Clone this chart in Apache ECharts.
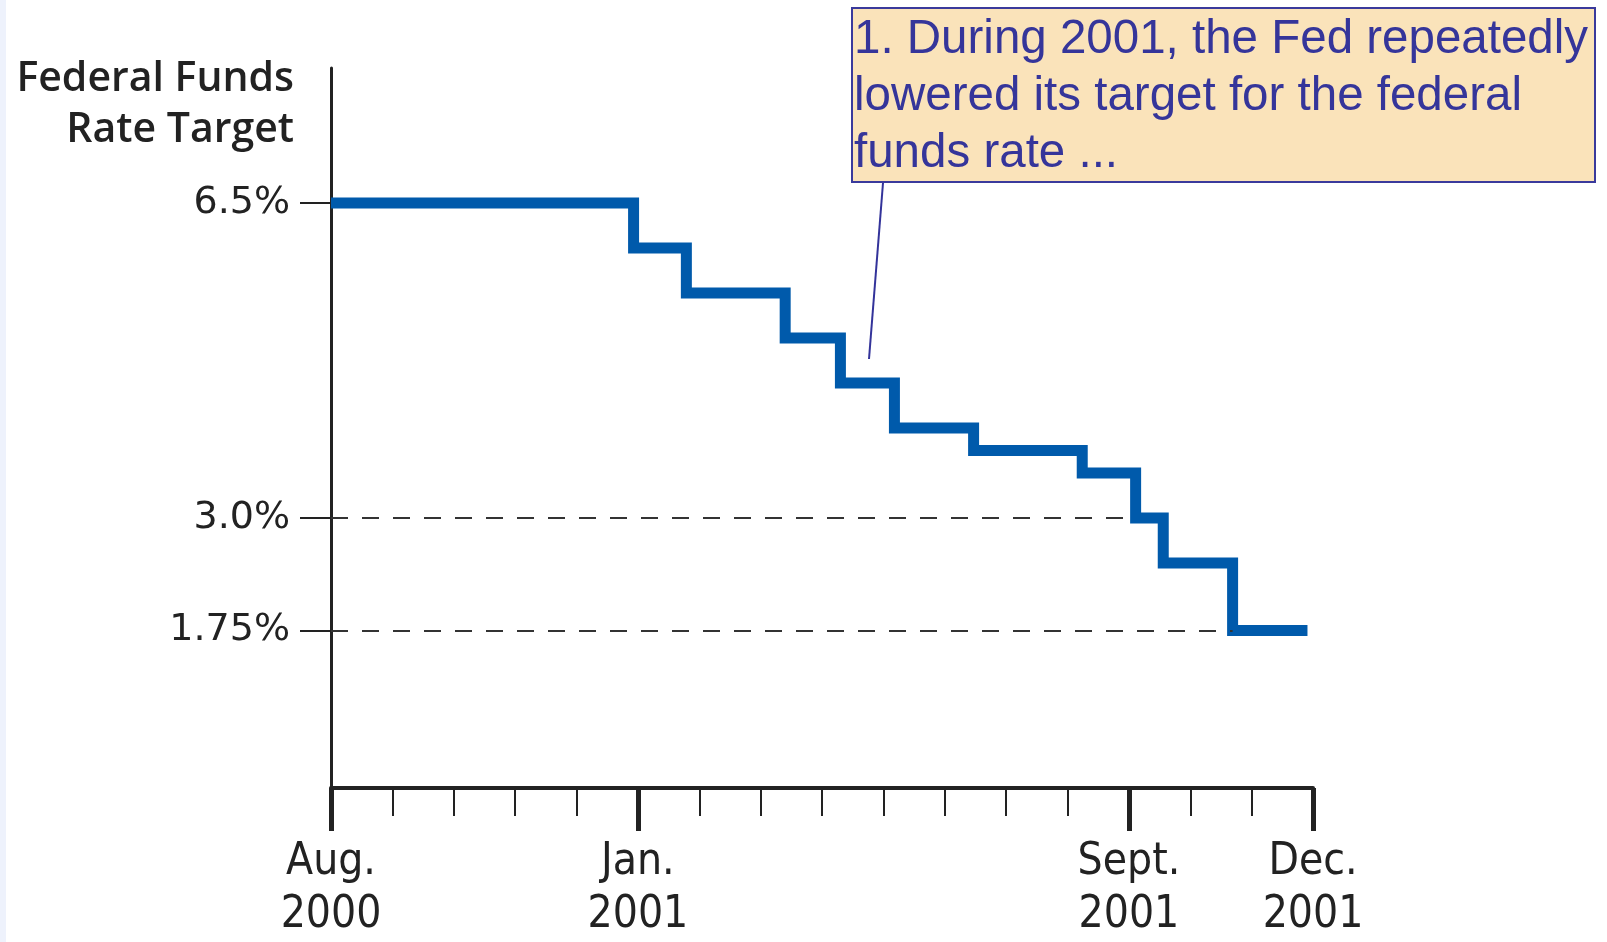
<!DOCTYPE html>
<html>
<head>
<meta charset="utf-8">
<script src="https://cdn.jsdelivr.net/npm/echarts@6/dist/echarts.min.js"></script>
<style>
  html, body { margin: 0; padding: 0; background: #fff; }
  #chart { width: 1607px; height: 942px; }
</style>
</head>
<body>
<div id="chart"></div>
<script>
// months counted from Aug 2000 (0) to Dec 2001 (16)
const changeMonths = [0, 4.93, 5.79, 7.40, 8.30, 9.18, 10.47, 12.24, 13.11, 13.56, 14.69, 15.91]
const rates = [6.5, 6.0, 5.5, 5.0, 4.5, 4.0, 3.75, 3.5, 3.0, 2.5, 1.75, 1.75]

const yTickValues = [1.75, 3.0, 6.5]
const yTickLabels = ['1.75%', '3.0%', '6.5%']
const dashedLevels = [3.0, 1.75]

const xMajorValues = [0, 5, 13, 16]
const xMajorLabels = ['Aug.\n2000', 'Jan.\n2001', 'Sept.\n2001', 'Dec.\n2001']

const noteText = '1. During 2001, the Fed repeatedly\nlowered its target for the federal\nfunds rate ...'

const chart = echarts.init(document.getElementById('chart'))

const stepData = changeMonths.map((m, i) => [m, rates[i]])

// dashed guide from the axis to where the line reaches that level
const guides = dashedLevels.map(level => {
  const idx = rates.indexOf(level)
  return [{ coord: [0, level] }, { coord: [changeMonths[idx], level] }]
})

const axisColor = '#222'

chart.setOption({
  animation: false,
  backgroundColor: '#fff',
  grid: { left: 331, right: 294, top: 68, bottom: 145 },
  xAxis: [{
    type: 'value',
    min: 0,
    max: 16,
    interval: 1,
    axisLine: { lineStyle: { color: axisColor, width: 4 } },
    axisTick: { show: true, length: 28, lineStyle: { color: axisColor, width: 2 } },
    axisLabel: { show: false },
    splitLine: { show: false }
  }, {
    type: 'value',
    min: 0,
    max: 16,
    position: 'bottom',
    axisLine: { show: false },
    axisTick: { show: true, customValues: xMajorValues, length: 43, lineStyle: { color: axisColor, width: 5 } },
    axisLabel: {
      customValues: xMajorValues,
      formatter: v => xMajorLabels[xMajorValues.indexOf(v)],
      margin: 48,
      color: '#222',
      fontSize: 44,
      lineHeight: 53,
      fontFamily: 'DejaVu Sans Condensed, Liberation Sans Narrow, sans-serif'
    },
    splitLine: { show: false }
  }],
  yAxis: {
    type: 'value',
    min: 0,
    max: 8,
    axisLine: { show: true, lineStyle: { color: axisColor, width: 3 } },
    axisTick: { show: true, customValues: yTickValues, length: 31, lineStyle: { color: axisColor, width: 2 } },
    axisLabel: {
      customValues: yTickValues,
      formatter: v => yTickLabels[yTickValues.indexOf(v)],
      margin: 41,
      color: '#222',
      fontSize: 38,
      fontFamily: 'DejaVu Sans, sans-serif'
    },
    splitLine: { show: false }
  },
  series: [{
    type: 'line',
    step: 'end',
    data: stepData,
    showSymbol: false,
    symbol: 'none',
    lineStyle: { color: '#005aab', width: 11, cap: 'butt', join: 'miter' },
    markLine: {
      silent: true,
      symbol: 'none',
      label: { show: false },
      lineStyle: { color: '#333', width: 2, type: [17, 14] },
      data: guides
    },
    z: 3
  }],
  graphic: [
    {
      type: 'rect',
      left: 0, top: 0,
      shape: { width: 6, height: 942 },
      style: { fill: '#eef2fc' }
    },
    {
      type: 'text',
      x: 294, y: 54,
      style: {
        text: 'Federal Funds\nRate Target',
        align: 'right',
        verticalAlign: 'top',
        font: '600 41px "Open Sans", sans-serif',
        lineHeight: 51,
        fill: '#222'
      }
    },
    {
      type: 'line',
      shape: { x1: 883, y1: 183, x2: 869, y2: 359 },
      style: { stroke: '#33339a', lineWidth: 2 }
    },
    {
      type: 'rect',
      shape: { x: 852, y: 8, width: 743, height: 174 },
      style: { fill: '#fae3ba', stroke: '#3a3a9c', lineWidth: 2 }
    },
    {
      type: 'text',
      x: 854, y: 11,
      style: {
        text: noteText,
        align: 'left',
        verticalAlign: 'top',
        font: '47.5px "Liberation Sans", Arial, sans-serif',
        lineHeight: 57,
        fill: '#35359a'
      }
    }
  ]
})
</script>
</body>
</html>
